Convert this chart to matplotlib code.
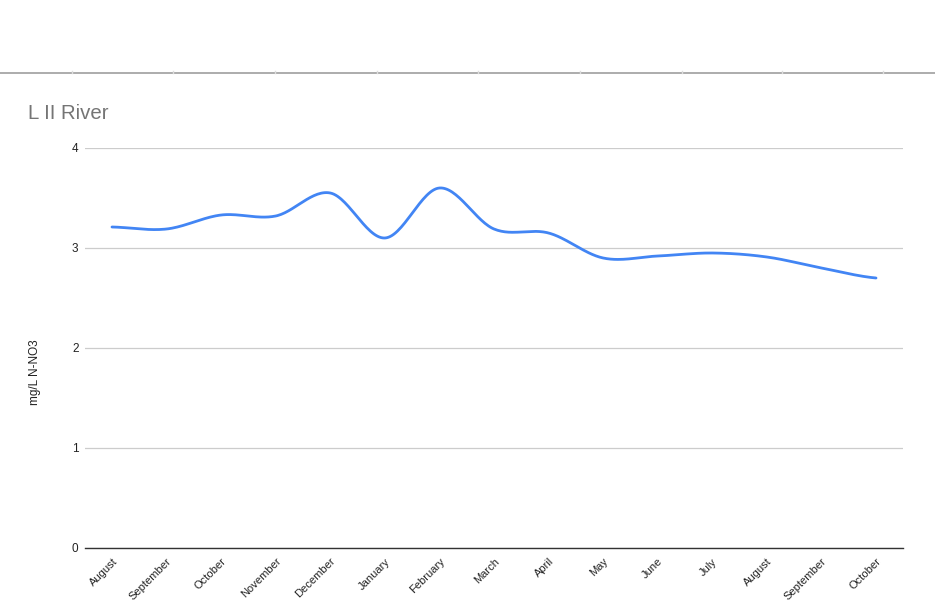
import numpy as np
import matplotlib
matplotlib.use("Agg")
import matplotlib.pyplot as plt
from matplotlib.lines import Line2D

months = ["August", "September", "October", "November", "December", "January",
          "February", "March", "April", "May", "June", "July", "August",
          "September", "October"]
values = [3.21, 3.19, 3.33, 3.32, 3.55, 3.10, 3.60, 3.19, 3.15, 2.90, 2.92,
          2.95, 2.91, 2.80, 2.70]
yticks = [0, 1, 2, 3, 4]

plt.rcParams['font.family'] = ['Liberation Sans', 'DejaVu Sans']

fig = plt.figure(figsize=(9.35, 6), dpi=100)
W, H = 935, 600
AXW = 903.3 - 84.7
ax = fig.add_axes([84.7 / W, 1 - 548 / H, AXW / W, 400 / H])

x = np.arange(len(values), dtype=float)
y = np.array(values, dtype=float)


def smooth(xs, ys, n=30, t=0.5):
    px = np.concatenate([[2 * xs[0] - xs[1]], xs, [2 * xs[-1] - xs[-2]]])
    py = np.concatenate([[ys[0]], ys, [ys[-1]]])
    ox, oy = [], []
    for i in range(1, len(px) - 2):
        p0x, p1x, p2x, p3x = px[i - 1:i + 3]
        p0y, p1y, p2y, p3y = py[i - 1:i + 3]
        m1x, m2x = t * (p2x - p0x), t * (p3x - p1x)
        m1y, m2y = t * (p2y - p0y), t * (p3y - p1y)
        s = np.linspace(0, 1, n, endpoint=False)
        h00 = 2 * s**3 - 3 * s**2 + 1
        h10 = s**3 - 2 * s**2 + s
        h01 = -2 * s**3 + 3 * s**2
        h11 = s**3 - s**2
        ox.append(h00 * p1x + h10 * m1x + h01 * p2x + h11 * m2x)
        oy.append(h00 * p1y + h10 * m1y + h01 * p2y + h11 * m2y)
    ox.append([xs[-1]])
    oy.append([ys[-1]])
    return np.concatenate(ox), np.concatenate(oy)


sx, sy = smooth(x, y)
ax.plot(sx, sy, color="#4285f4", lw=2, solid_capstyle="round", zorder=3)

ax.set_xlim(-0.5, len(values) - 0.5)
ax.set_ylim(0, 4)
ax.set_yticks(yticks)
ax.set_yticklabels([str(v) for v in yticks], fontsize=8.5, color="#222222")
ax.set_xticks(x)
ax.set_xticklabels(months, fontsize=8, color="#222222", rotation=45,
                   ha="right", va="top", rotation_mode="anchor")
ax.tick_params(axis="both", length=0)
ax.tick_params(axis="y", pad=4.5)
ax.tick_params(axis="x", pad=6)
ax.grid(axis="y", color="#cccccc", lw=0.9)
ax.set_axisbelow(True)
for side in ["top", "right", "left"]:
    ax.spines[side].set_visible(False)
ax.spines["bottom"].set_color("#333333")
ax.spines["bottom"].set_linewidth(1.0)

ax.set_ylabel("mg/L N-NO3", fontsize=8.5, color="#222222", va="center")
ax.yaxis.set_label_coords((35 - 84.7) / AXW, (548 - 372) / 400)

fig.text(28 / W, 1 - 113.5 / H, "L II River", fontsize=14.7, color="#757575",
         ha="left", va="center")

# top separator line with faint ticks
fig.add_artist(Line2D([0, 1], [1 - 73.3 / H, 1 - 73.3 / H], color="#9e9e9e",
                      lw=1.2, transform=fig.transFigure))
for tx in [71.8, 173.4, 275.1, 376.8, 478.5, 580.1, 681.8, 781.7, 883.4]:
    fig.add_artist(Line2D([tx / W, tx / W], [1 - 73.3 / H, 1 - 71.0 / H],
                          color="#dddddd", lw=1, transform=fig.transFigure))

fig.savefig("out.png", dpi=100, facecolor="white")
